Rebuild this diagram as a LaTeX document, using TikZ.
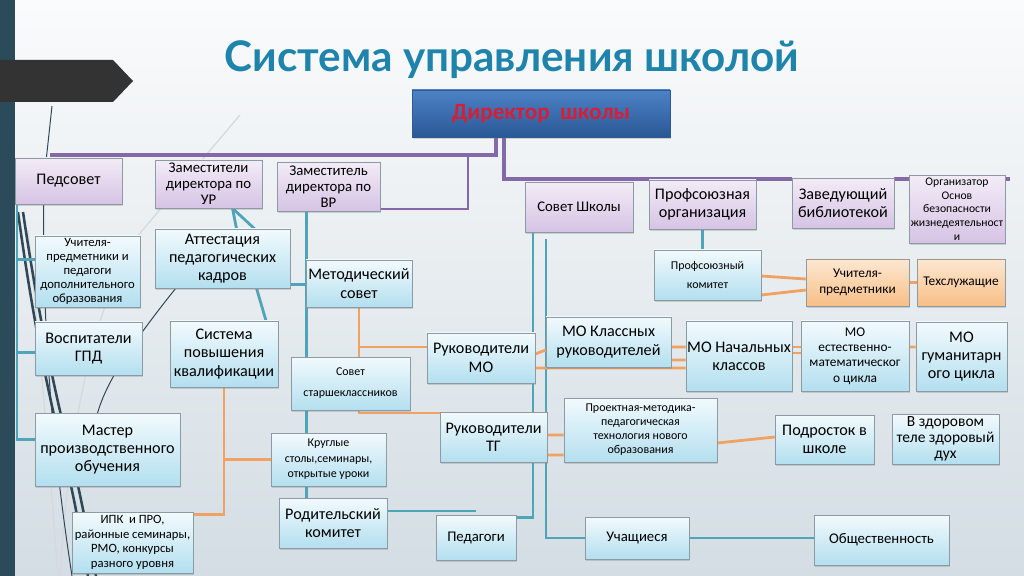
\documentclass[tikz,border=0pt]{standalone}
\usepackage{fontspec}
\setmainfont{Carlito}
\newfontfamily\titlefont{Lato}
\usetikzlibrary{shadows}
\pgfdeclarelayer{bg}
\pgfdeclarelayer{edges}
\pgfsetlayers{bg,edges,main}
\definecolor{vioTop}{HTML}{F3ECF7}
\definecolor{vioBot}{HTML}{D6C3E4}
\definecolor{cyTop}{HTML}{F2FAFD}
\definecolor{cyBot}{HTML}{B3DFEF}
\definecolor{orTop}{HTML}{FDE8D2}
\definecolor{orBot}{HTML}{F7BE86}
\definecolor{dirTop}{HTML}{4C82C6}
\definecolor{dirBot}{HTML}{2A5896}
\definecolor{dirLine}{HTML}{2D5A93}
\definecolor{dirText}{HTML}{D41F36}
\definecolor{boxLine}{HTML}{8C9AA3}
\definecolor{tealLine}{HTML}{4EA5BA}
\definecolor{purpLine}{HTML}{8469A9}
\definecolor{orLine}{HTML}{F0A262}
\definecolor{titleBlue}{HTML}{1F84AC}
\definecolor{stripDark}{HTML}{2C4B5A}
\definecolor{arrowDark}{HTML}{333333}
\definecolor{decoDark}{HTML}{2F4756}
\definecolor{decoLight}{HTML}{D3DADF}
\definecolor{bgTop}{HTML}{FAFBFC}
\definecolor{bgBot}{HTML}{D3DDE3}
\tikzset{sz/.style 2 args={minimum width=#1*0.025cm, minimum height=#2*0.025cm}}
\begin{document}
\begin{tikzpicture}[x=0.025cm, y=-0.025cm]
\tikzstyle{mybox} = [draw=boxLine, line width=0.4pt, align=center, inner sep=0.5pt, text=black,
   drop shadow={shadow xshift=1pt, shadow yshift=-1.2pt, opacity=0.3}]
\tikzstyle{myviolet} = [mybox, top color=vioTop, bottom color=vioBot]
\tikzstyle{myblue} = [mybox, top color=cyTop, bottom color=cyBot]
\tikzstyle{myorange} = [mybox, top color=orTop, bottom color=orBot]
\tikzstyle{fbig} = [font=\fontsize{11.5}{13}\selectfont]
\tikzstyle{fnorm} = [font=\fontsize{10.5}{11.5}\selectfont]
\tikzstyle{fmid} = [font=\fontsize{9.5}{11}\selectfont]
\tikzstyle{fsmall} = [font=\fontsize{8.5}{10}\selectfont]
\tikzstyle{tealedge} = [draw=tealLine, line width=2pt]
\tikzstyle{violetedge} = [draw=purpLine, line width=2.6pt]
\tikzstyle{orangeedge} = [draw=orLine, line width=2pt]
\tikzstyle{decodark} = [draw=decoDark, line width=1.8pt]
\tikzstyle{decothin} = [draw=decoDark, line width=0.7pt]
\tikzstyle{decolight} = [draw=decoLight, line width=0.9pt]
\useasboundingbox (0,0) rectangle (1024,576);

% slide background
\begin{pgfonlayer}{bg}
 \shade[top color=bgTop, bottom color=bgBot] (0,0) rectangle (1024,576);
 \draw[decolight] (240,115) -- (130,245) .. controls (90,330) and (70,420) .. (60,576);
 \draw[decolight] (28,230) .. controls (40,350) and (50,470) .. (58,576);
 \draw[decothin] (52,106) -- (44,180) .. controls (42,300) and (48,420) .. (72,576);
 \draw[decodark] (18,212) .. controls (30,300) and (45,380) .. (60,440) .. controls (72,485) and (80,530) .. (88,576);
 \draw[decodark] (23,212) .. controls (36,300) and (52,380) .. (67,440) .. controls (79,485) and (87,530) .. (96,576);
 \draw[decothin] (180,283) .. controls (130,345) and (100,390) .. (95,425);
 \fill[stripDark] (0,0) rectangle (15,576);
 \fill[arrowDark] (0,60) -- (113,60) -- (133,81) -- (113,102) -- (0,102) -- cycle;
\end{pgfonlayer}

\node[font=\titlefont\bfseries\fontsize{30}{32}\selectfont, text=titleBlue] (title) at (512,60) {Система управления школой};

\node[mybox, top color=dirTop, bottom color=dirBot, draw=dirLine, sz={258}{47},
   font=\bfseries\fontsize{16.5}{18}\selectfont, text=dirText] (director) at (541,113.5) {Директор\ \ школы};

% violet row
\node[myviolet, fbig, sz={107}{46}] (pedsovet) at (68.5,181) {Педсовет};
\node[myviolet, fnorm, sz={107}{48}] (zamUR) at (208.5,184) {Заместители\\директора по\\УР};
\node[myviolet, fnorm, sz={103}{49}] (zamVR) at (328.5,186.5) {Заместитель\\директора по\\ВР};
\node[myviolet, fnorm, sz={108}{50}] (sovetSh) at (579,207) {Совет Школы};
\node[myviolet, fbig, sz={107}{49}] (profOrg) at (702.5,204.5) {Профсоюзная\\организация};
\node[myviolet, fbig, sz={102}{50}] (zavBib) at (843,203) {Заведующий\\библиотекой};
\node[myviolet, font=\fontsize{8.3}{9.7}\selectfont, sz={96}{68}] (orgOBZh) at (957,209) {Организатор\\Основ\\безопасности\\жизнедеятельност\\и};

% blue boxes
\node[myblue, font=\fontsize{9}{10}\selectfont, sz={105}{71}] (uchPed) at (87.5,271.5) {Учителя-\\предметники и\\педагоги\\дополнительного\\образования};
\node[myblue, fbig, sz={135}{59}] (attest) at (222.5,258.5) {Аттестация\\педагогических\\кадров};
\node[myblue, fbig, sz={106}{47}] (metSovet) at (359,283.5) {Методический\\совет};
\node[myblue, fbig, sz={107}{53}] (vospGPD) at (88.5,348.5) {Воспитатели\\ГПД};
\node[myblue, fbig, sz={108}{66}] (sistPK) at (224,354) {Система\\повышения\\квалификации};
\node[myblue, fsmall, sz={119}{53}] (sovetStarsh) at (350.5,383.5) {Совет\\[5pt]старшеклассников};
\node[myblue, fbig, sz={108}{50}] (rukMO) at (481,358) {Руководители\\МО};
\node[myblue, fbig, sz={125}{50}] (moKlass) at (608.5,342) {МО Классных\\руководителей};
\node[myblue, fbig, sz={106}{70}] (moNach) at (739,356) {МО Начальных\\классов};
\node[myblue, fmid, sz={108}{70}] (moEst) at (855,356) {МО\\естественно-\\математическог\\о цикла};
\node[myblue, fbig, sz={91}{69}] (moGum) at (961.5,356.5) {МО\\гуманитарн\\ого цикла};
\node[myblue, fsmall, sz={107}{50}] (profKom) at (707.5,275) {Профсоюзный\\[4pt]комитет};
\node[myorange, fmid, sz={103}{47}] (uchPredm) at (857.5,282.5) {Учителя-\\предметники};
\node[myorange, fmid, sz={88}{47}] (tehsl) at (961,282.5) {Техслужащие};
\node[myblue, fbig, sz={145}{73}] (master) at (107.5,449.5) {Мастер\\производственного\\обучения};
\node[myblue, fbig, sz={107}{50}] (rukTG) at (493.5,437) {Руководители\\ТГ};
\node[myblue, fsmall, sz={153}{64}] (proekt) at (640.5,430) {Проектная-методика-\\педагогическая\\технология нового\\образования};
\node[myblue, fbig, sz={99}{49}] (podrost) at (824.5,439.5) {Подросток в\\школе};
\node[myblue, font=\fontsize{11}{11.5}\selectfont, sz={107}{50}] (vZdor) at (945.5,439) {В здоровом\\теле здоровый\\дух};
\node[myblue, font=\fontsize{8.5}{11}\selectfont, sz={115}{53}] (krugl) at (328.5,459.5) {Круглые\\столы,семинары,\\открытые уроки};
\node[myblue, font=\fontsize{9}{10.5}\selectfont, sz={121}{61}] (ipk) at (132.5,542.5) {ИПК\ \ и ПРО,\\районные семинары,\\РМО, конкурсы\\разного уровня};
\node[myblue, fbig, sz={108}{50}] (rodit) at (333,523) {Родительский\\комитет};
\node[myblue, fnorm, sz={80}{45}] (pedag) at (476,537.5) {Педагоги};
\node[myblue, fnorm, sz={104}{42}] (uchasch) at (637,538) {Учащиеся};
\node[myblue, fnorm, sz={135}{50}] (obshch) at (881.5,540) {Общественность};

\begin{pgfonlayer}{edges}
% violet lines from the director
\coordinate (busL) at (50,155);
\coordinate (busR) at (1010,179);
\coordinate (busJ) at (468,155);
\draw[violetedge] ([xshift=-1.125cm]director.south) |- (busL);
\draw[violetedge] ([xshift=-0.925cm]director.south) |- (busR);
\draw[violetedge, line width=1.6pt] (busJ) |- ([yshift=0.05cm]zamVR.south east);
% teal lines
\coordinate (rail) at (17,204);
\draw[tealedge, line width=1.5pt] (rail) |- ([yshift=0.3cm]uchPed.west);
\draw[tealedge, line width=1.5pt] (rail) |- ([yshift=-0.1cm]vospGPD.west);
\draw[tealedge, line width=1.5pt] (rail) |- ([yshift=0.25cm]master.west);
\draw[tealedge] ([xshift=0.6cm]zamUR.south) -- ([xshift=0.35cm]attest.north);
\draw[tealedge] ([xshift=0.6cm]zamUR.south) -- ([xshift=0.8cm]attest.north);
\draw[tealedge] ([xshift=0.85cm]attest.south) -- ([xshift=1.05cm]sistPK.north);
\coordinate (vr) at ([xshift=-0.55cm]zamVR.south);
\draw[tealedge] (vr) -- (vr |- rodit.north);
\draw[tealedge] ([yshift=-0.65cm]attest.east) -- ([yshift=-0.65cm]attest.east -| vr);
\draw[tealedge] ([yshift=0.3cm]rodit.east) -- ([yshift=0.3cm]rodit.east -| pedag.north);
\coordinate (ssL) at ([xshift=-1.15cm]sovetSh.south);
\coordinate (ssR) at (546,239);
\draw[tealedge] (ssL) |- ([yshift=0.5cm]pedag.east);
\draw[tealedge] (ssR) |- (uchasch.west);
\draw[tealedge] (uchasch.east) -- (uchasch.east -| obshch.west);
\draw[tealedge] (profOrg.south) -- (profOrg.south |- profKom.north);
% orange lines
\draw[orangeedge] (metSovet.south) |- ([yshift=0.6cm]rukTG.west);
\draw[orangeedge] ([yshift=0.275cm]rukMO.west) -- ([yshift=0.275cm]rukMO.west -| metSovet.south);
\draw[orangeedge] ([yshift=0.1cm]rukMO.east) -- ([yshift=-0.2cm]moKlass.west);
\draw[orangeedge] ([yshift=-0.25cm]rukMO.east) -- ([yshift=-0.3cm]moNach.west);
\draw[orangeedge] ([yshift=-0.125cm]moKlass.east) -- ([yshift=0.225cm]moNach.west);
\draw[orangeedge] ([yshift=-0.45cm]moKlass.east) -- ([yshift=-0.1cm]moNach.west);
\draw[orangeedge] ([yshift=0.225cm]moNach.east) -- ([yshift=0.225cm]moEst.west);
\draw[orangeedge] ([yshift=0.075cm]moNach.east) -- ([yshift=0.075cm]moEst.west);
\draw[orangeedge] ([yshift=0.225cm]moEst.east) -- ([yshift=0.2375cm]moGum.west);
\draw[orangeedge] ([yshift=0.05cm]rukTG.east) -- ([yshift=-0.125cm]proekt.west);
\draw[orangeedge] ([yshift=-0.45cm]rukTG.east) -- ([yshift=-0.625cm]proekt.west);
\draw[orangeedge] ([yshift=-0.325cm]proekt.east) -- ([yshift=0.0625cm]podrost.west);
\draw[orangeedge] ([yshift=-0.025cm]profKom.east) -- ([yshift=0.0875cm]uchPredm.west);
\draw[orangeedge] ([yshift=-0.5cm]profKom.east) -- ([yshift=-0.1875cm]uchPredm.west);
\draw[orangeedge] (uchPredm.east) -- (tehsl.west);
\draw[orangeedge] (sistPK.south) |- ([yshift=0.7cm]ipk.east);
\draw[orangeedge] (sistPK.south |- krugl.west) -- (krugl.west);
\end{pgfonlayer}
\end{tikzpicture}
\end{document}
